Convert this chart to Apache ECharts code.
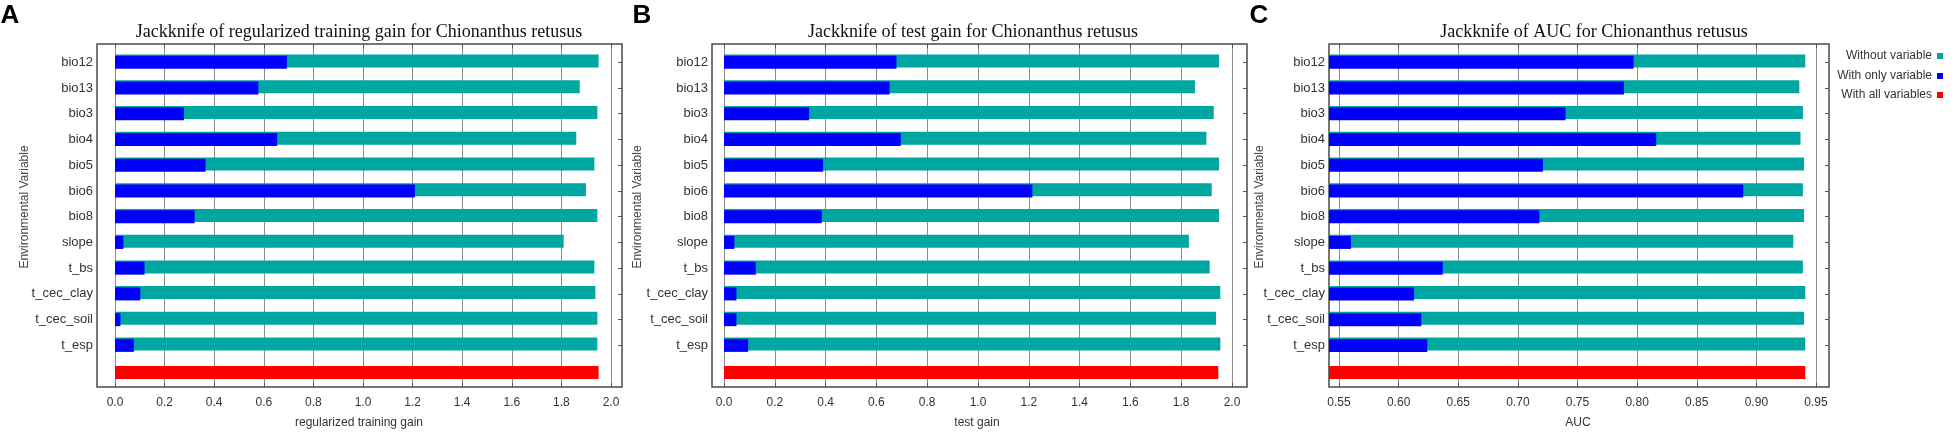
<!DOCTYPE html>
<html>
<head>
<meta charset="utf-8">
<script src="https://cdn.jsdelivr.net/npm/echarts@6/dist/echarts.min.js"></script>
<style>
html, body {margin: 0; padding: 0; background: #fff;}
#main {width: 1958px; height: 437px;}
</style>
</head>
<body>
<div id="main"></div>
<script>
// variables in the jackknife, top to bottom; last row is the "all variables" bar
var variables = ['bio12', 'bio13', 'bio3', 'bio4', 'bio5', 'bio6', 'bio8', 'slope', 't_bs', 't_cec_clay', 't_cec_soil', 't_esp'];
var rows = variables.concat(['']);

// A: regularized training gain
var trainWithout = [1.950, 1.874, 1.945, 1.860, 1.933, 1.899, 1.945, 1.809, 1.933, 1.937, 1.945, 1.945];
var trainOnly = [0.693, 0.578, 0.278, 0.654, 0.365, 1.209, 0.321, 0.034, 0.119, 0.102, 0.022, 0.076];
var trainAll = 1.950;

// B: test gain
var testWithout = [1.949, 1.854, 1.928, 1.899, 1.949, 1.920, 1.949, 1.830, 1.912, 1.954, 1.937, 1.954];
var testOnly = [0.679, 0.652, 0.335, 0.696, 0.390, 1.214, 0.385, 0.041, 0.125, 0.049, 0.049, 0.095];
var testAll = 1.946;

// C: AUC
var aucWithout = [0.941, 0.936, 0.939, 0.937, 0.940, 0.939, 0.940, 0.931, 0.939, 0.941, 0.940, 0.941];
var aucOnly = [0.797, 0.789, 0.740, 0.816, 0.721, 0.889, 0.718, 0.560, 0.637, 0.613, 0.619, 0.624];
var aucAll = 0.941;

var tealColor = '#00a6a2';
var blueColor = '#0000ff';
var redColor = '#ff0000';

var frameTop = 44, frameBottom = 387;
var rowTop = 49.4, rowBottom = 384;

// layout per panel (pixels): frame box and where the labelled tick range sits
var panels = [
    {letter: 'A', title: 'Jackknife of regularized training gain for Chionanthus retusus', titleX: 359,
     xName: 'regularized training gain', xNameX: 359, yNameX: 25, letterX: 10,
     frameL: 97, frameR: 622, tickL: 115, tickR: 611, min: 0, max: 2, interval: 0.2, digits: 1,
     without: trainWithout, only: trainOnly, all: trainAll},
    {letter: 'B', title: 'Jackknife of test gain for Chionanthus retusus', titleX: 973,
     xName: 'test gain', xNameX: 977, yNameX: 638, letterX: 642,
     frameL: 712, frameR: 1247, tickL: 724, tickR: 1232, min: 0, max: 2, interval: 0.2, digits: 1,
     without: testWithout, only: testOnly, all: testAll},
    {letter: 'C', title: 'Jackknife of AUC for Chionanthus retusus', titleX: 1594,
     xName: 'AUC', xNameX: 1578, yNameX: 1260, letterX: 1259,
     frameL: 1329, frameR: 1829, tickL: 1339, tickR: 1816, min: 0.55, max: 0.95, interval: 0.05, digits: 2,
     without: aucWithout, only: aucOnly, all: aucAll}
];

var grids = [], xAxes = [], yAxes = [], series = [], graphics = [];
var tickColor = '#555';
var labelFont = 'Liberation Sans';

panels.forEach(function (p, i) {
    // bar axis range stretched so the bar grid lines up with the frame
    var perPx = (p.max - p.min) / (p.tickR - p.tickL);
    var barMin = p.min - (p.tickL - p.frameL) * perPx;
    var barMax = p.max + (p.frameR - p.tickR) * perPx;

    // frame box
    grids.push({left: p.frameL, width: p.frameR - p.frameL, top: frameTop, bottom: 437 - frameBottom,
        show: true, borderColor: '#4a4a4a', borderWidth: 1.5, backgroundColor: 'transparent'});
    // tick range grid
    grids.push({left: p.tickL, width: p.tickR - p.tickL, top: frameTop, bottom: 437 - frameBottom});
    // bars grid
    grids.push({left: p.frameL, width: p.frameR - p.frameL, top: rowTop, bottom: 437 - rowBottom});

    var g = i * 3;
    xAxes.push({gridIndex: g, type: 'value', show: false, min: 0, max: 1});
    xAxes.push({gridIndex: g + 1, type: 'value', position: 'bottom', min: p.min, max: p.max, interval: p.interval,
        axisLine: {show: false},
        axisTick: {show: true, inside: true, length: 4, lineStyle: {color: tickColor}},
        axisLabel: {margin: 10, color: '#333', fontSize: 12, fontFamily: labelFont,
            formatter: function (v) { return v.toFixed(p.digits); }},
        splitLine: {show: true, lineStyle: {color: '#8c8c8c', width: 1}}});
    xAxes.push({gridIndex: g + 1, type: 'value', position: 'top', min: p.min, max: p.max, interval: p.interval,
        axisLine: {show: false},
        axisTick: {show: true, inside: true, length: 4, lineStyle: {color: tickColor}},
        axisLabel: {show: false}, splitLine: {show: false}});
    xAxes.push({gridIndex: g + 2, type: 'value', show: false, min: barMin, max: barMax});

    var rowTick = {show: true, inside: true, length: 4, alignWithLabel: true, lineStyle: {color: tickColor},
        interval: function (idx) { return idx < variables.length; }};
    yAxes.push({gridIndex: g, type: 'value', show: false, min: 0, max: 1});
    yAxes.push({gridIndex: g + 1, type: 'value', show: false, min: 0, max: 1});
    yAxes.push({gridIndex: g + 2, type: 'category', data: rows, inverse: true, position: 'left',
        axisLine: {show: false}, axisTick: rowTick,
        axisLabel: {margin: 4, color: '#333', fontSize: 13, fontFamily: labelFont},
        splitLine: {show: false}});
    yAxes.push({gridIndex: g + 2, type: 'category', data: rows, inverse: true, position: 'right',
        axisLine: {show: false}, axisTick: rowTick, axisLabel: {show: false}, splitLine: {show: false}});

    var xi = i * 4 + 3, yi = i * 4 + 2;
    series.push({type: 'bar', name: 'Without variable', xAxisIndex: xi, yAxisIndex: yi,
        data: p.without.concat([null]), barWidth: 13, barGap: '-90%',
        itemStyle: {color: tealColor}});
    series.push({type: 'bar', name: 'With only variable', xAxisIndex: xi, yAxisIndex: yi,
        data: p.only.concat([null]), barWidth: 13, barGap: '-90%',
        itemStyle: {color: blueColor}});
    series.push({type: 'bar', name: 'With all variables', xAxisIndex: xi, yAxisIndex: yi,
        data: variables.map(function () { return null; }).concat([p.all]), barWidth: 13, barGap: '-90%',
        itemStyle: {color: redColor}});

    // titles, panel letter, axis names
    graphics.push({type: 'text', x: p.titleX, y: 32, style: {text: p.title, fill: '#111',
        font: '18px "Liberation Serif"', align: 'center', verticalAlign: 'middle'}});
    graphics.push({type: 'text', x: p.letterX, y: 16, style: {text: p.letter, fill: '#000',
        font: 'bold 26px "Liberation Sans"', align: 'center', verticalAlign: 'middle'}});
    graphics.push({type: 'text', x: p.xNameX, y: 423, style: {text: p.xName, fill: '#333',
        font: '12px "Liberation Sans"', align: 'center', verticalAlign: 'middle'}});
    graphics.push({type: 'text', x: p.yNameX, y: 207, rotation: Math.PI / 2, style: {text: 'Environmental Variable',
        fill: '#444', font: '12px "Liberation Sans"', align: 'center', verticalAlign: 'middle'}});
});

// one legend per entry so each line is right aligned
var legendNames = ['Without variable', 'With only variable', 'With all variables'];
var legendY = [57, 77, 96];
var legends = legendNames.map(function (name, k) {
    return {data: [name], orient: 'vertical', align: 'right', right: 15, top: legendY[k] - 7, padding: 0,
        icon: 'rect', itemWidth: 6, itemHeight: 6, selectedMode: false,
        textStyle: {color: '#333', fontSize: 12, fontFamily: labelFont}};
});

var chart = echarts.init(document.getElementById('main'));
chart.setOption({
    animation: false,
    backgroundColor: '#fff',
    grid: grids,
    xAxis: xAxes,
    yAxis: yAxes,
    legend: legends,
    series: series,
    graphic: graphics
});
</script>
</body>
</html>
